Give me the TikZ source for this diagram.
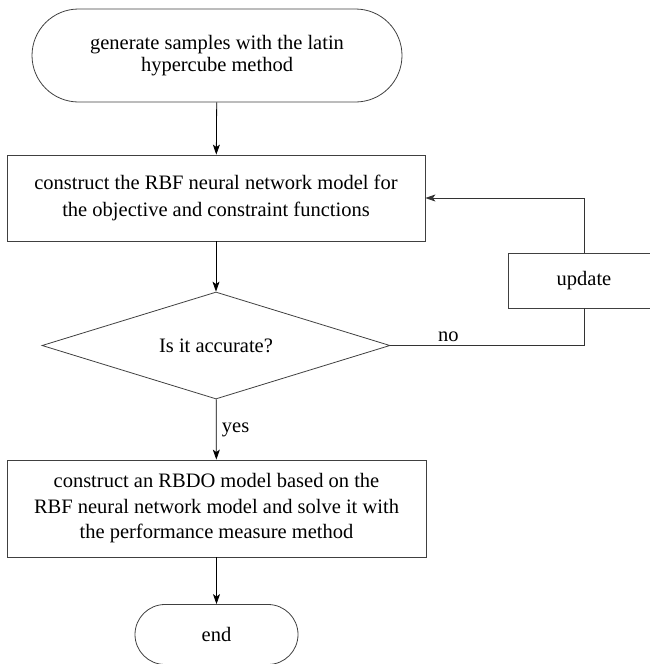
\documentclass[tikz,border=0pt]{standalone}
\usepackage{fontspec}
\setmainfont{Liberation Serif}
\usetikzlibrary{shapes.geometric,shapes.misc,arrows.meta}

\tikzset{
    box/.style={draw=black!75,line width=0.8pt,rectangle,align=center,inner sep=0pt},
    term/.style={draw=black!75,line width=0.8pt,rounded rectangle,align=center,inner sep=0pt},
    test/.style={draw=black!75,line width=0.8pt,diamond,aspect=3.3,align=center,inner sep=0pt},
    flow/.style={line width=0.8pt,-{Stealth[length=10pt,width=7pt,inset=2.5pt]}},
    link/.style={draw=black!80,line width=0.8pt}
}

\begin{document}
\begin{tikzpicture}[x=1pt,y=-1pt,font=\fontsize{20.5}{25.5}\selectfont]
                \useasboundingbox (0,0) rectangle (649,664);

                \node[term,minimum width=370,minimum height=93,font=\fontsize{20.5}{22.5}\selectfont] (start) at (217,55.5)
                    {generate samples with the latin\\hypercube method};
                \node[box,minimum width=418,minimum height=86,font=\fontsize{20.5}{27}\selectfont] (build) at (216,198)
                    {construct the RBF neural network model for\\the objective and constraint functions};
                \node[test,minimum width=348,minimum height=107] (check) at (216,345.5) {Is it accurate?};
                \node[box,minimum width=152,minimum height=55] (update) at (584,280.5) {update};
                \node[box,minimum width=419,minimum height=97] (solve) at (216.5,508.5)
                    {construct an RBDO model based on the\\RBF neural network model and solve it with\\the performance measure method};
                \node[term,minimum width=163,minimum height=60] (stop) at (216.5,634.5) {end};

                \draw[flow] (start) -- (build);
                \draw[flow] (build) -- (check);
                \draw[flow] (check) -- node[right,xshift=2pt] {yes} (solve);
                \draw[flow] (solve) -- (stop);

                \draw[link] (check.east) -- node[above,pos=0.3] {no} (check.east -| update.south) -- (update.south);
                \draw[link,flow] (update.north) |- (build.east);
            \end{tikzpicture}
\end{document}
